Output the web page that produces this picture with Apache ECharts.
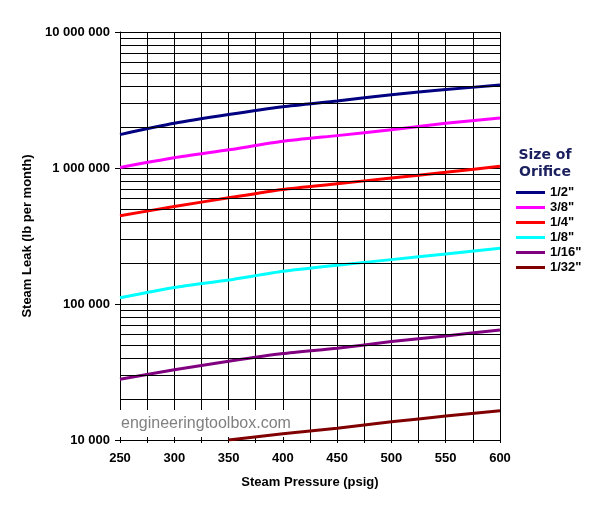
<!DOCTYPE html>
<html>
<head>
<meta charset="utf-8">
<script src="https://cdn.jsdelivr.net/npm/echarts@6/dist/echarts.min.js"></script>
<style>
  html, body { margin: 0; padding: 0; background: #fff; }
  #chart { width: 606px; height: 516px; }
</style>
</head>
<body>
<div id="chart"></div>
<script>
// steam pressure (psig)
var pressures = [250, 300, 350, 400, 450, 500, 550, 600];
// orifice sizes, legend order
var sizes = ['1/2"', '3/8"', '1/4"', '1/8"', '1/16"', '1/32"'];
var colors = ['#000080', '#FF00FF', '#FF0000', '#00FFFF', '#800080', '#800000'];

// steam leak, lb per month
var leakHalf      = [1760000, 2130000, 2470000, 2820000, 3110000, 3460000, 3770000, 4080000];
var leakThreeEgth = [1010000, 1190000, 1360000, 1570000, 1730000, 1910000, 2130000, 2330000];
var leakQuarter   = [446000, 521000, 604000, 696000, 766000, 844000, 929000, 1030000];
var leakEighth    = [111000, 132000, 150000, 174000, 193000, 212000, 233000, 257000];
var leakSixteenth = [28000, 32800, 37900, 43200, 47300, 52900, 58200, 64500];
var leakThirtySnd = [null, null, 10000, 11100, 12200, 13600, 15000, 16400];

var decades = [10000, 100000, 1000000];
var minorSteps = [2, 3, 4, 5, 6, 7, 8, 9];

var allLeaks = [leakHalf, leakThreeEgth, leakQuarter, leakEighth, leakSixteenth, leakThirtySnd];

var minorLines = [];
decades.forEach(function (d) {
    minorSteps.forEach(function (m) { minorLines.push({ yAxis: d * m }); });
});

function spaced(v) {
    return String(v).replace(/\B(?=(\d{3})+(?!\d))/g, ' ');
}

var font = 'Arial, "Liberation Sans", sans-serif';
var mychart = echarts.init(document.getElementById('chart'));

var series = [{
    name: 'grid',
    type: 'line',
    data: [],
    silent: true,
    markLine: {
        silent: true,
        symbol: ['none', 'none'],
        label: { show: false },
        lineStyle: { color: '#000', width: 1, type: 'solid' },
        animation: false,
        data: minorLines
    }
}];
for (var i = 0; i < sizes.length; i++) {
    var pts = [];
    for (var j = 0; j < pressures.length; j++) {
        pts.push([pressures[j], allLeaks[i][j]]);
    }
    series.push({
        name: sizes[i],
        type: 'line',
        data: pts,
        symbol: 'none',
        smooth: 0.2,
        color: colors[i],
        lineStyle: { width: 3, color: colors[i] },
        connectNulls: false,
        animation: false
    });
}

var option = {
    animation: false,
    grid: { left: 120, right: 106, top: 32, bottom: 76 },
    xAxis: {
        type: 'value',
        min: 250,
        max: 600,
        interval: 25,
        name: 'Steam Pressure (psig)',
        nameLocation: 'middle',
        nameGap: 36,
        nameTextStyle: { fontFamily: font, fontSize: 13, fontWeight: 'bold', color: '#000' },
        axisLine: { lineStyle: { color: '#000', width: 1 } },
        axisTick: { show: true, length: 3, lineStyle: { color: '#000' } },
        axisLabel: {
            fontFamily: font, fontSize: 13, fontWeight: 'bold', color: '#000', margin: 12,
            showMinLabel: true, showMaxLabel: true,
            formatter: function (v) { return v % 50 === 0 ? v : ''; }
        },
        splitLine: { show: true, lineStyle: { color: '#000', width: 1 } }
    },
    yAxis: {
        type: 'log',
        logBase: 10,
        min: 10000,
        max: 10000000,
        name: 'Steam Leak (lb per month)',
        nameLocation: 'middle',
        nameGap: 77,
        nameTextStyle: { fontFamily: font, fontSize: 13, fontWeight: 'bold', color: '#000' },
        axisLine: { show: true, lineStyle: { color: '#000', width: 1 } },
        axisTick: { show: true, length: 5, lineStyle: { color: '#000' } },
        axisLabel: {
            fontFamily: font, fontSize: 13, fontWeight: 'bold', color: '#000', margin: 10,
            formatter: spaced
        },
        splitLine: { show: true, lineStyle: { color: '#000', width: 1 } }
    },
    legend: {
        data: sizes,
        orient: 'vertical',
        left: 516,
        top: 186,
        padding: 0,
        icon: 'rect',
        itemWidth: 29,
        itemHeight: 3,
        itemGap: 2,
        textGap: 3,
        textStyle: { fontFamily: font, fontSize: 13, fontWeight: 'bold', color: '#000' }
    },
    graphic: [
        {
            type: 'text',
            z: 10,
            x: 545,
            y: 147,
            style: {
                text: 'Size of\nOrifice',
                font: 'bold 14px "DejaVu Sans", Verdana, sans-serif',
                fill: '#1A1F5E',
                align: 'center',
                verticalAlign: 'top',
                lineHeight: 17
            }
        },
        {
            type: 'text',
            z: 1,
            x: 120,
            y: 410,
            style: {
                text: 'engineeringtoolbox.com',
                font: '16px Arial, "Liberation Sans", sans-serif',
                fill: '#808080',
                backgroundColor: '#fff',
                padding: [6, 3, 5, 1]
            }
        }
    ],
    series: series
};
mychart.setOption(option);
</script>
</body>
</html>
